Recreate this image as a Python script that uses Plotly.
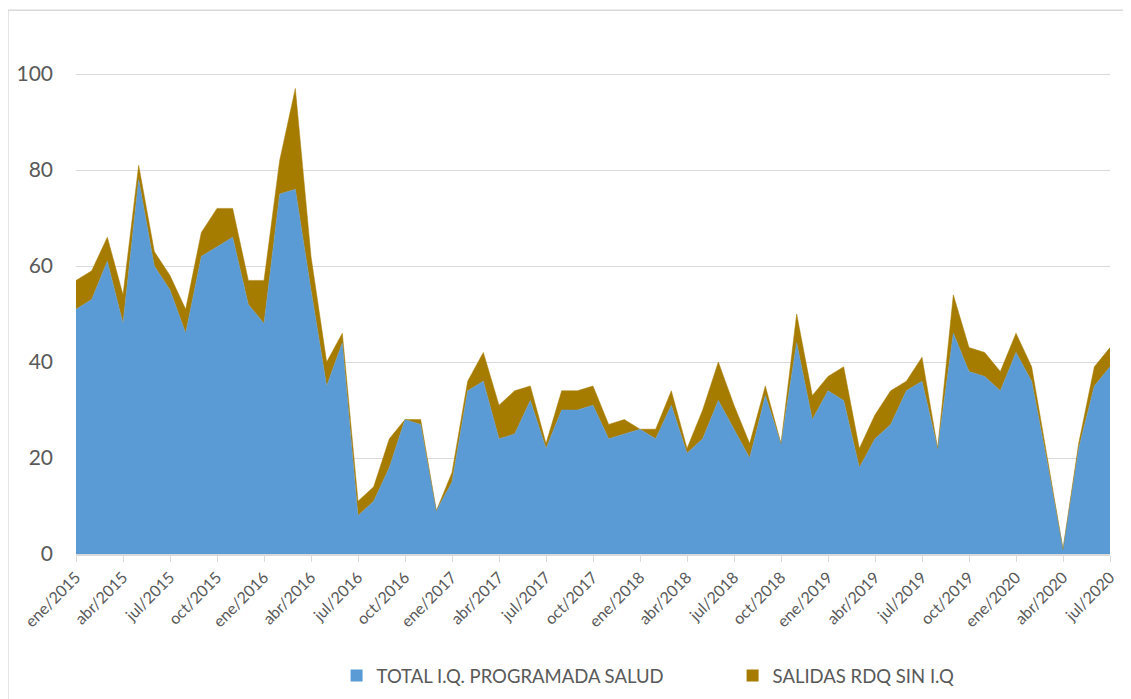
import plotly.graph_objects as go

# month labels, ene/2015 .. jul/2020
meses = ['ene', 'feb', 'mar', 'abr', 'may', 'jun', 'jul', 'ago', 'sep', 'oct', 'nov', 'dic']
labels = [m + '/' + str(y) for y in range(2015, 2021) for m in meses][:67]

# TOTAL I.Q. PROGRAMADA SALUD
total_iq = [51, 53, 61, 48, 78, 60, 55, 46, 62, 64, 66, 52,
            48, 75, 76, 55, 35, 44, 8, 11, 18, 28, 27, 9,
            15, 34, 36, 24, 25, 32, 22, 30, 30, 31, 24, 25,
            26, 24, 31, 21, 24, 32, 26, 20, 33, 23, 44, 28,
            34, 32, 18, 24, 27, 34, 36, 22, 46, 38, 37, 34,
            42, 36, 19, 1, 22, 35, 39]

# SALIDAS RDQ SIN I.Q
salidas = [6, 6, 5, 6, 3, 3, 3, 5, 5, 8, 6, 5,
           9, 7, 21, 7, 5, 2, 3, 3, 6, 0, 1, 0,
           2, 2, 6, 7, 9, 3, 1, 4, 4, 4, 3, 3,
           0, 2, 3, 1, 6, 8, 5, 3, 2, 0, 6, 5,
           3, 7, 4, 5, 7, 2, 5, 0, 8, 5, 5, 4,
           4, 3, 1, 0, 1, 4, 4]

series = ['TOTAL I.Q. PROGRAMADA SALUD', 'SALIDAS RDQ SIN I.Q']
colores = ['#5B9BD5', '#A67C00']

tick_labels = labels[::3]

fig = go.Figure()
for nombre, valores, c in zip(series, [total_iq, salidas], colores):
    fig.add_trace(go.Scatter(
        x=labels, y=valores, name=nombre, showlegend=False,
        stackgroup='one', mode='lines',
        line=dict(width=0.5, color=c), fillcolor=c))

# legend entries with small square markers (like Excel), one legend each
for nombre, c, leg in zip(series, colores, ['legend', 'legend2']):
    fig.add_trace(go.Scatter(
        x=[None], y=[None], name=nombre, mode='markers', legend=leg,
        marker=dict(symbol='square', size=12, color=c)))

leg_font = dict(size=18.5, color='#595959')

# note: page body has 8px margin, so margins are shifted by 8
fig.update_layout(
    width=1131, height=699,
    margin=dict(l=68, r=29, t=18, b=150),
    paper_bgcolor='white', plot_bgcolor='white',
    font=dict(family='Lato, Open Sans, sans-serif', color='#595959'),
    showlegend=True,
    legend=dict(orientation='h', x=0.252, xanchor='left', y=-0.231, yanchor='middle',
                font=leg_font),
    legend2=dict(orientation='h', x=0.635, xanchor='left', y=-0.231, yanchor='middle',
                 font=leg_font),
    shapes=[dict(type='rect', xref='paper', yref='paper',
                 x0=-0.0658, x1=1.2, y0=-0.4, y1=1.03,
                 line=dict(color='#D9D9D9', width=1.5), layer='below')],
)

fig.update_xaxes(
    type='category', range=[0, 66], automargin=False,
    tickmode='array', tickvals=tick_labels, ticktext=tick_labels,
    tickangle=-45, tickfont=dict(size=16, color='#595959'),
    showgrid=False, showline=True, linecolor='#D9D9D9', linewidth=1.5,
    ticks='outside', ticklen=6, tickcolor='#D9D9D9')

fig.update_yaxes(
    range=[0, 110], tickvals=[0, 20, 40, 60, 80, 100], automargin=False,
    tickfont=dict(size=21, color='#595959'),
    showgrid=True, gridcolor='#D9D9D9', gridwidth=1.2,
    zeroline=False, showline=False, ticks='', ticklabelstandoff=22)

fig.write_html("out.html")
